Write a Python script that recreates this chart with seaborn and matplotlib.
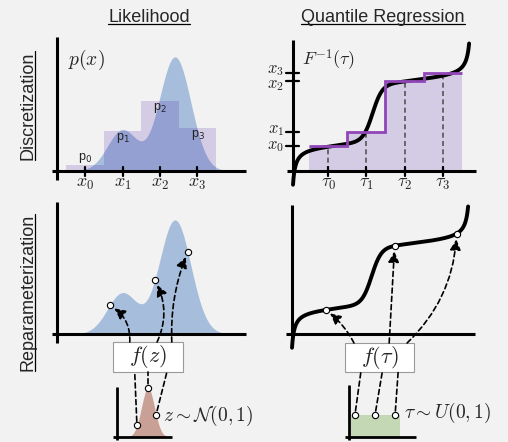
import numpy as np
import matplotlib
matplotlib.use("Agg")
import matplotlib.pyplot as plt
import seaborn as sns
from matplotlib.patches import ConnectionPatch, Rectangle

# ---------------- data ----------------
# likelihood density (two-bump mixture)
mix_means = [1.0, 2.4]
mix_sds = [0.40, 0.42]
mix_heights = [0.41, 1.14]
bin_centers = [0, 1, 2, 3]
bin_probs = [0.06, 0.40, 0.70, 0.43]
bin_tick_labels = [r"$x_0$", r"$x_1$", r"$x_2$", r"$x_3$"]
prob_labels = ["p$_0$", "p$_1$", "p$_2$", "p$_3$"]
density_samples = [0.66, 1.86, 2.74]

# quantile function F^-1(tau)
q_base = 0.228
q_slope = 0.16
q_left_tail = [0.0052, 0.014]    # scale, offset
q_right_tail = [0.006, 0.013]    # scale, offset
q_jump = [0.56, 0.45, 0.027]     # height, location, width
tau_ticks = [0.20, 0.415, 0.63, 0.845]
tau_tick_labels = [r"$\tau_0$", r"$\tau_1$", r"$\tau_2$", r"$\tau_3$"]
quantile_levels = [0.25, 0.39, 0.90, 0.98]
level_labels = [r"$x_0$", r"$x_1$", r"$x_2$", r"$x_3$"]
tau_samples = [0.19, 0.58, 0.93]

# base distributions
z_samples = [-1.7, 0.0, 1.25]
u_samples = [0.08, 0.49, 0.90]

# ---------------- style ----------------
BG = "#f2f2f2"
BLUE = "#a6bddb"
BAR = "#3a0aa0"
PURPLE = "#9146b8"
BROWN = "#c9a096"
GREEN = "#c4d8b6"

sns.set_style("white")
plt.rcParams["font.family"] = ["Liberation Sans", "DejaVu Sans"]
plt.rcParams["mathtext.fontset"] = "cm"

W, H = 508, 442
fig = plt.figure(figsize=(W / 100, H / 100), dpi=100, facecolor=BG)
canvas = fig.add_axes([0, 0, 1, 1])
canvas.set_xlim(0, W)
canvas.set_ylim(H, 0)
canvas.axis("off")


def panel(ox, oy, sx, sy, xlim, ylim):
    l = ox + xlim[0] * sx
    r = ox + xlim[1] * sx
    b = oy - ylim[0] * sy
    t = oy - ylim[1] * sy
    ax = fig.add_axes([l / W, 1 - b / H, (r - l) / W, (b - t) / H])
    ax.set_xlim(*xlim)
    ax.set_ylim(*ylim)
    ax.axis("off")
    return ax


def draw_axes(ax, xr, yx, yr, lw=2.2):
    ax.plot(xr, [0, 0], color="k", lw=lw, solid_capstyle="butt", clip_on=False, zorder=5)
    ax.plot([yx, yx], yr, color="k", lw=lw, solid_capstyle="butt", clip_on=False, zorder=5)


def density(x):
    x = np.asarray(x, dtype=float)
    return sum(h * np.exp(-0.5 * ((x - m) / s) ** 2)
               for m, s, h in zip(mix_means, mix_sds, mix_heights))


def quantile(t):
    t = np.asarray(t, dtype=float)
    return (q_base + q_slope * t
            - q_left_tail[0] / (t + q_left_tail[1])
            + q_right_tail[0] / (1 - t + q_right_tail[1])
            + q_jump[0] / (1 + np.exp(-(t - q_jump[1]) / q_jump[2])))


def circles(ax, x, y):
    ax.plot(x, y, "o", mfc="white", mec="k", ms=4.5, mew=0.8, zorder=7, clip_on=False)


xs = np.linspace(-0.6, 3.8, 500)
taus = np.linspace(0.0, 0.995, 600)

# ---------- top-left: discretized likelihood ----------
axA = panel(85, 171, 37.5, 100, (-1.2, 4.4), (-0.3, 1.45))
axA.fill_between(xs, density(xs), color=BLUE, lw=0, zorder=1)
axA.bar(bin_centers, bin_probs, width=1.0, color=BAR, alpha=0.16, lw=0, zorder=2)
draw_axes(axA, (-0.88, 4.29), -0.75, (-0.09, 1.34))
for c, lab in zip(bin_centers, bin_tick_labels):
    axA.plot([c, c], [-0.045, 0.045], color="k", lw=1.6, zorder=5)
    axA.text(c, -0.12, lab, ha="center", va="center", fontsize=13)
for c, p, lab in zip(bin_centers, bin_probs, prob_labels):
    yy = p + 0.07 if p < 0.1 else p - 0.07
    axA.text(c, yy, lab, ha="center", va="center", fontsize=9,
             math_fontfamily="dejavusans", color="#222222", zorder=6)
axA.text(0.05, 1.11, r"$p(x)$", ha="center", va="center", fontsize=14)

# ---------- bottom-left: reparameterized likelihood ----------
axB = panel(85, 334, 37.5, 100, (-1.2, 4.4), (-0.25, 1.4))
axB.fill_between(xs, density(xs), color=BLUE, lw=0, zorder=1)
draw_axes(axB, (-0.88, 4.29), -0.75, (-0.09, 1.32))
circles(axB, density_samples, density(density_samples))

# ---------- top-right: quantile regression ----------
axC = panel(293, 171, 177, 100, (-0.25, 1.1), (-0.3, 1.45))
bw = 0.215
axC.bar(tau_ticks, quantile_levels, width=bw, color=BAR, alpha=0.16, lw=0, zorder=1)
edges = np.r_[np.array(tau_ticks) - bw / 2, tau_ticks[-1] + bw / 2]
axC.vlines(tau_ticks, 0, quantile_levels, colors="#555555",
           linestyles=(0, (3, 2)), lw=1.2, zorder=2)
sns.lineplot(x=taus, y=quantile(taus), ax=axC, color="k", lw=2.8, zorder=4)
axC.stairs(quantile_levels, edges, baseline=None, color=PURPLE, lw=2, zorder=5)
draw_axes(axC, (-0.034, 1.034), 0.0, (-0.03, 1.31))
for t, lab in zip(tau_ticks, tau_tick_labels):
    axC.plot([t, t], [-0.045, 0.045], color="k", lw=1.6, zorder=5)
    axC.text(t, -0.12, lab, ha="center", va="center", fontsize=13)
label_nudge = [-0.01, 0.01, -0.05, 0.02]   # keep the crowded labels apart
for q, lab, dq in zip(quantile_levels, level_labels, label_nudge):
    axC.plot([-0.04, 0.034], [q, q], color="k", lw=1.6, zorder=5)
    axC.text(-0.05, q + dq, lab, ha="right", va="center", fontsize=12)
axC.text(0.2, 1.11, r"$F^{-1}(\tau)$", ha="center", va="center", fontsize=13)

# ---------- bottom-right: reparameterized quantile ----------
axD = panel(292, 334, 177, 100, (-0.25, 1.1), (-0.3, 1.45))
sns.lineplot(x=taus, y=quantile(taus), ax=axD, color="k", lw=2.8, zorder=4)
draw_axes(axD, (-0.034, 1.034), 0.0, (-0.02, 1.29))
circles(axD, tau_samples, quantile(tau_samples))

# ---------- base distributions ----------
axE = panel(148, 437, 6.5, 123, (-6, 5), (-0.05, 0.45))
zs = np.linspace(-3.8, 3.8, 300)
pdf = lambda z: np.exp(-0.5 * np.asarray(z) ** 2) / np.sqrt(2 * np.pi)
axE.fill_between(zs, pdf(zs), color=BROWN, lw=0, zorder=1)
draw_axes(axE, (-5.4, 3.7), -4.77, (-0.024, 0.41), lw=2.0)
circles(axE, z_samples, pdf(z_samples))

axF = panel(351, 437, 49, 22, (-0.3, 1.6), (-0.3, 2.6))
axF.bar([0.5], [1.0], width=1.0, color=GREEN, lw=0, zorder=1)
draw_axes(axF, (-0.12, 1.33), -0.04, (-0.14, 2.36), lw=2.0)
circles(axF, u_samples, [1.0] * len(u_samples))

# ---------- f boxes ----------
boxes = {"z": (113, 342, 70, 30), "tau": (345, 343, 69, 29)}
for key, lab in [("z", r"$f(z)$"), ("tau", r"$f(\tau)$")]:
    bx, by, bwid, bh = boxes[key]
    canvas.add_patch(Rectangle((bx, by), bwid, bh, fc="white", ec="#9a9a9a", lw=0.8, zorder=3))
    canvas.text(bx + bwid / 2, by + bh / 2, lab, ha="center", va="center", fontsize=16, zorder=4)

canvas.text(163, 416, r"$z \sim \mathcal{N}(0,1)$", ha="left", va="center", fontsize=14)
canvas.text(404, 413, r"$\tau \sim U(0,1)$", ha="left", va="center", fontsize=14)

# ---------- arrows ----------
DASH = (0, (3, 2))


def box_pt(key, frac, side):
    bx, by, bwid, bh = boxes[key]
    return (bx + frac * bwid, by if side == "top" else by + bh)


up_left = [(0.24, 0.30), (0.63, 0.25), (0.84, -0.11)]
for (frac, rad), xv in zip(up_left, density_samples):
    fig.add_artist(ConnectionPatch(
        xyA=box_pt("z", frac, "top"), coordsA=canvas.transData,
        xyB=(xv, float(density(xv))), coordsB=axB.transData,
        arrowstyle="-|>", connectionstyle=f"arc3,rad={rad}", linestyle=DASH,
        lw=1.2, color="k", mutation_scale=16, shrinkA=0, shrinkB=4, zorder=6))

low_left = [0.31, 0.50, 0.77]
for frac, zv in zip(low_left, z_samples):
    fig.add_artist(ConnectionPatch(
        xyA=(zv, float(pdf(zv))), coordsA=axE.transData,
        xyB=box_pt("z", frac, "bottom"), coordsB=canvas.transData,
        arrowstyle="-", linestyle=DASH, lw=1.2, color="k", shrinkA=3, shrinkB=0, zorder=6))

up_right = [(0.13, 0.12), (0.64, 0.0), (0.90, 0.2)]
for (frac, rad), tv in zip(up_right, tau_samples):
    fig.add_artist(ConnectionPatch(
        xyA=box_pt("tau", frac, "top"), coordsA=canvas.transData,
        xyB=(tv, float(quantile(tv))), coordsB=axD.transData,
        arrowstyle="-|>", connectionstyle=f"arc3,rad={rad}", linestyle=DASH,
        lw=1.2, color="k", mutation_scale=16, shrinkA=0, shrinkB=4, zorder=6))

low_right = [0.23, 0.54, 0.77]
for frac, uv in zip(low_right, u_samples):
    fig.add_artist(ConnectionPatch(
        xyA=(uv, 1.0), coordsA=axF.transData,
        xyB=box_pt("tau", frac, "bottom"), coordsB=canvas.transData,
        arrowstyle="-", linestyle=DASH, lw=1.2, color="k", shrinkA=3, shrinkB=0, zorder=6))

# ---------- titles with underline ----------
t1 = canvas.text(149, 21.5, "Likelihood", ha="center", va="baseline", fontsize=13)
t2 = canvas.text(383, 21.5, "Quantile Regression", ha="center", va="baseline", fontsize=13)
r1 = canvas.text(33, 105.5, "Discretization", rotation=90, rotation_mode="anchor",
                 ha="center", va="baseline", fontsize=13)
r2 = canvas.text(33, 292.5, "Reparameterization", rotation=90, rotation_mode="anchor",
                 ha="center", va="baseline", fontsize=13)

fig.canvas.draw()
rend = fig.canvas.get_renderer()
inv = canvas.transData.inverted()
for t in (t1, t2):
    bb = t.get_window_extent(rend)
    (x0, _), (x1, _) = inv.transform([(bb.x0, bb.y0), (bb.x1, bb.y1)])
    canvas.plot([x0, x1], [23.5, 23.5], color="k", lw=0.9)
for t in (r1, r2):
    bb = t.get_window_extent(rend)
    (_, y0), (_, y1) = inv.transform([(bb.x0, bb.y0), (bb.x1, bb.y1)])
    canvas.plot([35, 35], [y0, y1], color="k", lw=0.9)

fig.savefig("out.png", dpi=100, facecolor=BG)
